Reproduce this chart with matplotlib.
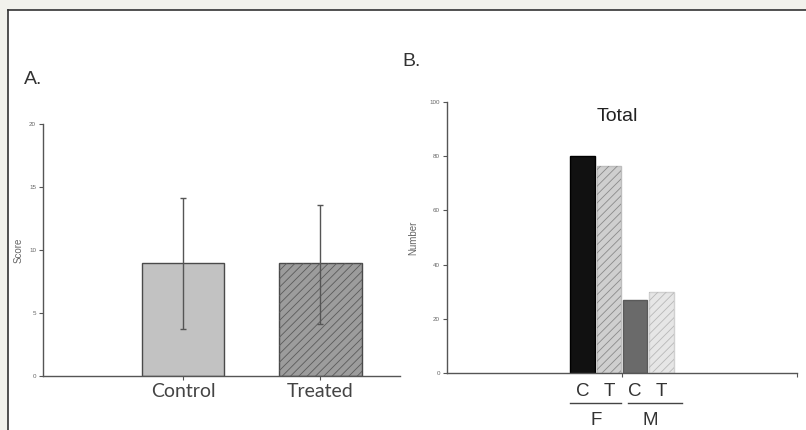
import matplotlib.pyplot as plt
from matplotlib.patches import Rectangle
from matplotlib.lines import Line2D

# Panel A data
groups_a = ['Control', 'Treated']
score_mean = [9.0, 8.95]
score_err_low = [5.3, 4.85]
score_err_high = [5.1, 4.65]

# Panel B data
b_bar_labels = ['C', 'T', 'C', 'T']
b_sex_labels = ['F', 'M']
b_values = [80, 76.5, 27, 30]

plt.rcParams['hatch.linewidth'] = 0.6
plt.rcParams['font.family'] = ['Liberation Sans', 'DejaVu Sans']

W, H = 806, 430
fig = plt.figure(figsize=(W / 100, H / 100), dpi=100)
fig.patch.set_facecolor('#f2f2ec')

# white panel with top/left border (drawn behind the axes)
fig.patches.append(Rectangle((8 / W, 0), 1 - 8 / W, 1 - 10 / H, transform=fig.transFigure,
                             facecolor='white', edgecolor='none', zorder=-10))
fig.lines.append(Line2D([8 / W, 1], [1 - 10 / H, 1 - 10 / H], transform=fig.transFigure,
                        color='#333333', lw=1.2, zorder=-5))
fig.lines.append(Line2D([8 / W, 8 / W], [0, 1 - 10 / H], transform=fig.transFigure,
                        color='#333333', lw=1.2, zorder=-5))

spine_col = '#555555'


def style_axis(ax):
    ax.set_facecolor('none')
    for s in ['top', 'right']:
        ax.spines[s].set_visible(False)
    for s in ['left', 'bottom']:
        ax.spines[s].set_color(spine_col)
        ax.spines[s].set_linewidth(1.0)
    ax.tick_params(axis='y', length=3, width=0.8, color=spine_col, labelsize=4.5,
                   labelcolor='#666666', pad=2)


# ---- Panel A ----
axA = fig.add_axes([43 / W, 1 - 376 / H, 357 / W, 252 / H])
style_axis(axA)
xa = [1, 2]
axA.bar(xa, score_mean, width=0.6, color=['#c2c2c2', '#9c9c9c'],
        edgecolor='#4a4a4a', linewidth=1.0, zorder=2)
axA.bar(xa[1], score_mean[1], width=0.6, facecolor='none', edgecolor='#5a5a5a',
        hatch='////', linewidth=0, zorder=3)
axA.errorbar(xa, score_mean, yerr=[score_err_low, score_err_high], fmt='none',
             ecolor='#555555', elinewidth=1.0, capsize=2, capthick=1.0, zorder=4)
axA.set_xlim(-0.02, 2.58)
axA.set_ylim(0, 20)
axA.set_yticks([0, 5, 10, 15, 20])
axA.set_xticks(xa)
axA.set_xticklabels(groups_a, fontsize=14, color='#444444', family=['Lato', 'DejaVu Sans'])
axA.tick_params(axis='x', length=3, width=0.8, color=spine_col, pad=2)
axA.set_ylabel('Score', fontsize=7, color='#666666', labelpad=4)
fig.text(24 / W, 1 - 80 / H, 'A.', fontsize=14, color='#333333', va='center', ha='left')

# ---- Panel B ----
axB = fig.add_axes([447 / W, 1 - 373 / H, 350 / W, 271 / H])
style_axis(axB)
bw = 0.14
xb = [0.775, 0.925, 1.075, 1.225]
faces = ['#111111', '#cfcfcf', '#6a6a6a', '#e6e6e6']
edges = ['#000000', '#bdbdbd', '#5a5a5a', '#d0d0d0']
hatch_cols = [None, '#8a8a8a', None, '#b8b8b8']
for i in range(4):
    axB.bar(xb[i], b_values[i], width=bw, color=faces[i], edgecolor=edges[i],
            linewidth=1.0, zorder=2)
    if hatch_cols[i]:
        axB.bar(xb[i], b_values[i], width=bw, facecolor='none', edgecolor=hatch_cols[i],
                hatch='////', linewidth=0, zorder=3)
axB.set_xlim(0, 2)
axB.set_ylim(0, 100)
axB.set_yticks([0, 20, 40, 60, 80, 100])
axB.set_xticks([1, 2])
axB.set_xticklabels([])
axB.tick_params(axis='x', length=3, width=0.8, color=spine_col)
axB.set_ylabel('Number', fontsize=7, color='#666666', labelpad=8)
axB.text(0.486, 0.945, 'Total', transform=axB.transAxes, fontsize=14, color='#222222',
         ha='center', va='center')

ytr = axB.get_xaxis_transform()
for i in range(4):
    axB.text(xb[i], -0.068, b_bar_labels[i], transform=ytr, fontsize=13.5,
             color='#333333', ha='center', va='center', clip_on=False)
for g in range(2):
    x0 = xb[2 * g] - bw / 2 + (0.03 * g)
    x1 = xb[2 * g + 1] + bw / 2 + (0.05 * g)
    axB.plot([x0, x1], [-0.111, -0.111], transform=ytr, color='#444444', lw=1.0,
             clip_on=False)
    axB.text((xb[2 * g] + xb[2 * g + 1]) / 2 + 0.01 * g, -0.175, b_sex_labels[g],
             transform=ytr, fontsize=13.5, color='#333333', ha='center', va='center',
             clip_on=False)
fig.text(402 / W, 1 - 62 / H, 'B.', fontsize=14, color='#333333', va='center', ha='left')

fig.savefig('out.png', dpi=100, facecolor=fig.get_facecolor())
